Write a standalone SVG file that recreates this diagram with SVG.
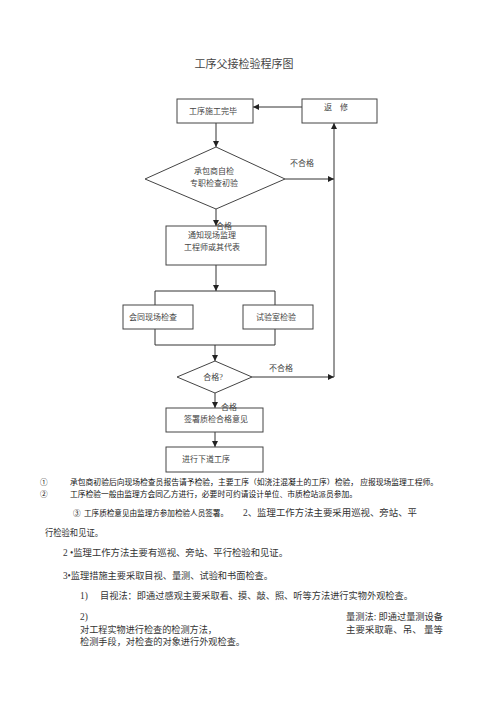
<svg xmlns="http://www.w3.org/2000/svg" width="500" height="707" viewBox="0 0 500 707">
<style>
.bg{fill:#fff}
.box{fill:#fff;stroke:#444;stroke-width:1}
.ln{fill:none;stroke:#333;stroke-width:1}
.t{font-family:"Liberation Serif","Noto Sans CJK SC",serif;fill:#444;font-size:8px}
.c{text-anchor:middle}
.n{font-family:"Liberation Sans","Noto Sans CJK SC",sans-serif;fill:#111;font-size:7.6px}
.b{font-family:"Liberation Serif","Noto Sans CJK SC",serif;fill:#333;font-size:9.4px}
</style>
<defs>
<marker id="ah" markerWidth="6" markerHeight="6" refX="6" refY="3" orient="auto" markerUnits="userSpaceOnUse">
<path d="M0,0 L6,3 L0,6 Z" fill="#222"/>
</marker>
</defs>
<rect class="bg" x="0" y="0" width="500" height="707"/>
<text class="t c" x="244" y="68" style="font-size:11px">工序父接检验程序图</text>

<g id="connectors">
<line class="ln" x1="302" y1="107" x2="253" y2="107" marker-end="url(#ah)"/>
<line class="ln" x1="216" y1="123" x2="216" y2="147" marker-end="url(#ah)"/>
<line class="ln" x1="285" y1="179" x2="334" y2="179" marker-end="url(#ah)"/>
<line class="ln" x1="334" y1="377" x2="334" y2="123" marker-end="url(#ah)"/>
<line class="ln" x1="216" y1="209" x2="216" y2="226" marker-end="url(#ah)"/>
<line class="ln" x1="216" y1="265" x2="216" y2="291" marker-end="url(#ah)"/>
<polyline class="ln" points="155,305 155,291 275,291 275,305"/>
<polyline class="ln" points="155,329 155,345 275,345 275,329"/>
<line class="ln" x1="215" y1="345" x2="215" y2="361" marker-end="url(#ah)"/>
<line class="ln" x1="252" y1="377" x2="334" y2="377" marker-end="url(#ah)"/>
<line class="ln" x1="215" y1="393" x2="215" y2="408" marker-end="url(#ah)"/>
<line class="ln" x1="215" y1="432" x2="215" y2="447" marker-end="url(#ah)"/>
<text class="t" x="290" y="166">不合格</text>
<text class="t" x="269" y="371">不合格</text>
</g>

<g id="n1">
<rect class="box" x="177" y="99" width="76" height="24"/>
<text class="t c" x="213" y="114">工序施工完毕</text>
</g>
<g id="n2">
<rect class="box" x="302" y="99" width="75" height="24"/>
<text class="t c" x="336" y="110">返　修</text>
</g>
<g id="n3">
<polygon class="box" points="216,147 285,179 216,209 145,179"/>
<text class="t c" x="214" y="174">承包商自检</text>
<text class="t c" x="214" y="186">专职检查初验</text>
</g>
<g id="n4">
<rect class="box" x="166" y="226" width="100" height="39"/>
<text class="t" x="216" y="229">合格</text>
<text class="t c" x="212" y="238">通知现场监理</text>
<text class="t c" x="212" y="250">工程师或其代表</text>
</g>
<g id="n5">
<rect class="box" x="123" y="305" width="70" height="24"/>
<text class="t c" x="153" y="320">会同现场检查</text>
</g>
<g id="n6">
<rect class="box" x="243" y="305" width="70" height="24"/>
<text class="t c" x="276" y="320">试验室检验</text>
</g>
<g id="n7">
<polygon class="box" points="215,361 252,377 215,393 177,377"/>
<text class="t c" x="213" y="380">合格?</text>
</g>
<g id="n8">
<rect class="box" x="166" y="408" width="97" height="24"/>
<text class="t" x="221" y="410">合格</text>
<text class="t c" x="216" y="422">签署质检合格意见</text>
</g>
<g id="n9">
<rect class="box" x="166" y="447" width="97" height="25"/>
<text class="t c" x="206" y="462">进行下道工序</text>
</g>

<text class="n" x="40" y="485">①</text>
<text class="n" x="70" y="485" textLength="368" lengthAdjust="spacingAndGlyphs">承包商初验后向现场检查员报告请予检验，主要工序（如浇注混凝土的工序）检验，  应报现场监理工程师。</text>
<text class="n" x="40" y="497">②</text>
<text class="n" x="70" y="497" textLength="287" lengthAdjust="spacingAndGlyphs">工序检验一般由监理方会同乙方进行，必要时可约请设计单位、市质检站派员参加。</text>
<text class="n" x="73" y="516">③</text>
<text class="n" x="84" y="516" textLength="144" lengthAdjust="spacingAndGlyphs">工序质检意见由监理方参加检验人员签署。</text>
<text class="b" x="243" y="516" fill="#555" textLength="174" lengthAdjust="spacingAndGlyphs">2、监理工作方法主要采用巡视、旁站、平</text>
<text class="b" x="45" y="536" textLength="58" lengthAdjust="spacingAndGlyphs">行检验和见证。</text>
<text class="b" x="63" y="556" textLength="225" lengthAdjust="spacingAndGlyphs">2 •监理工作方法主要有巡视、旁站、平行检验和见证。</text>
<text class="b" x="63" y="579" textLength="210" lengthAdjust="spacingAndGlyphs">3•监理措施主要采取目视、量测、试验和书面检查。</text>
<text class="b" x="80" y="599">1)</text>
<text class="b" x="100" y="599" textLength="313" lengthAdjust="spacingAndGlyphs">目视法：即通过感观主要采取看、摸、敲、照、听等方法进行实物外观检查。</text>
<text class="b" x="80" y="620">2)</text>
<text class="b" x="346" y="620" textLength="97" lengthAdjust="spacingAndGlyphs">量测法: 即通过量测设备</text>
<text class="b" x="80" y="633" textLength="137" lengthAdjust="spacingAndGlyphs">对工程实物进行检查的检测方法，</text>
<text class="b" x="346" y="633" textLength="97" lengthAdjust="spacingAndGlyphs">主要采取靠、吊、  量等</text>
<text class="b" x="80" y="645" textLength="165" lengthAdjust="spacingAndGlyphs">检测手段，对检查的对象进行外观检查。</text>
</svg>
